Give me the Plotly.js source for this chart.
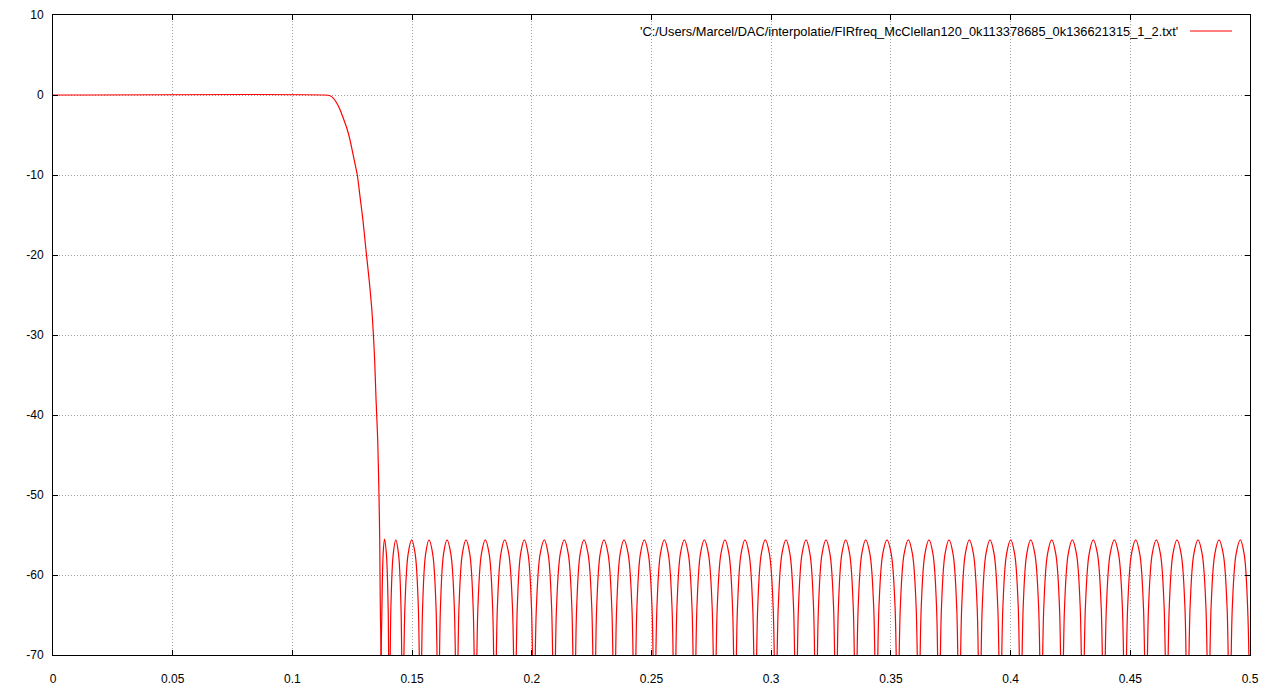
<!DOCTYPE html>
<html>
<head>
<meta charset="utf-8">
<script src="https://cdn.plot.ly/plotly-3.0.1.min.js"></script>
<style>
  html, body { margin: 0; padding: 0; background: #ffffff; }
  #chart { width: 1280px; height: 699px; }
</style>
</head>
<body>
<div id="chart"></div>
<script>
// ---- data ----
const seriesName = "'C:/Users/Marcel/DAC/interpolatie/FIRfreq_McClellan120_0k113378685_0k136621315_1_2.txt'";

// passband (flat at 0 dB)
const freqPass = [0, 0.11362];
const gainPass = [0, 0];

// transition band
const freqTrans = [0.11571, 0.11708, 0.11850, 0.11988, 0.12126, 0.12268, 0.12406, 0.12573, 0.12711, 0.12824,
                   0.12949, 0.13074, 0.13212, 0.13312, 0.13379, 0.13438, 0.13492, 0.13563, 0.13617, 0.13647, 0.13672];
const gainTrans = [-0.1, -0.4, -1.0, -1.8, -2.9, -4.1, -5.6, -8.0, -10.0, -12.7,
                   -15.7, -19.4, -23.3, -26.6, -29.7, -33.3, -37.9, -43.1, -50.0, -55.6, -64.0];

// stopband ripple (null, rising side, peak, falling side for each lobe)
const freqStop = [
  0.13705, 0.13741, 0.13790, 0.13847, 0.13927, 0.13998,
  0.14048, 0.14116, 0.14211, 0.14319, 0.14434, 0.14535,
  0.14607, 0.14701, 0.14833, 0.14983, 0.15130, 0.15259,
  0.15351, 0.15440, 0.15564, 0.15706, 0.15862, 0.15998,
  0.16095, 0.16186, 0.16313, 0.16458, 0.16620, 0.16762,
  0.16863, 0.16960, 0.17096, 0.17251, 0.17410, 0.17549,
  0.17648, 0.17751, 0.17894, 0.18058, 0.18220, 0.18362,
  0.18463, 0.18564, 0.18706, 0.18868, 0.19040, 0.19191,
  0.19298, 0.19395, 0.19531, 0.19687, 0.19846, 0.19985,
  0.20084, 0.20194, 0.20347, 0.20522, 0.20684, 0.20826,
  0.20927, 0.21035, 0.21186, 0.21358, 0.21525, 0.21671,
  0.21775, 0.21876, 0.22018, 0.22180, 0.22352, 0.22503,
  0.22611, 0.22712, 0.22854, 0.23016, 0.23188, 0.23339,
  0.23446, 0.23547, 0.23689, 0.23851, 0.24027, 0.24180,
  0.24290, 0.24392, 0.24535, 0.24699, 0.24869, 0.25019,
  0.25125, 0.25228, 0.25371, 0.25535, 0.25705, 0.25855,
  0.25961, 0.26063, 0.26206, 0.26370, 0.26540, 0.26690,
  0.26796, 0.26899, 0.27042, 0.27206, 0.27380, 0.27532,
  0.27640, 0.27748, 0.27898, 0.28070, 0.28237, 0.28384,
  0.28488, 0.28593, 0.28739, 0.28906, 0.29076, 0.29226,
  0.29332, 0.29438, 0.29585, 0.29754, 0.29928, 0.30080,
  0.30188, 0.30296, 0.30446, 0.30618, 0.30785, 0.30932,
  0.31036, 0.31141, 0.31287, 0.31454, 0.31621, 0.31767,
  0.31871, 0.31976, 0.32122, 0.32289, 0.32456, 0.32603,
  0.32707, 0.32808, 0.32950, 0.33112, 0.33279, 0.33426,
  0.33530, 0.33635, 0.33781, 0.33948, 0.34125, 0.34280,
  0.34390, 0.34502, 0.34658, 0.34837, 0.35016, 0.35172,
  0.35284, 0.35395, 0.35550, 0.35727, 0.35901, 0.36053,
  0.36161, 0.36269, 0.36419, 0.36591, 0.36758, 0.36905,
  0.37009, 0.37114, 0.37260, 0.37427, 0.37597, 0.37747,
  0.37853, 0.37959, 0.38106, 0.38275, 0.38449, 0.38601,
  0.38709, 0.38817, 0.38968, 0.39140, 0.39312, 0.39463,
  0.39570, 0.39679, 0.39830, 0.40004, 0.40171, 0.40318,
  0.40422, 0.40527, 0.40673, 0.40840, 0.41015, 0.41169,
  0.41278, 0.41388, 0.41541, 0.41717, 0.41889, 0.42040,
  0.42147, 0.42255, 0.42405, 0.42577, 0.42753, 0.42906,
  0.43016, 0.43126, 0.43279, 0.43454, 0.43630, 0.43783,
  0.43893, 0.44003, 0.44156, 0.44332, 0.44511, 0.44667,
  0.44779, 0.44891, 0.45047, 0.45225, 0.45397, 0.45548,
  0.45656, 0.45764, 0.45914, 0.46086, 0.46260, 0.46412,
  0.46521, 0.46629, 0.46779, 0.46951, 0.47126, 0.47280,
  0.47389, 0.47499, 0.47652, 0.47828, 0.48003, 0.48157,
  0.48266, 0.48376, 0.48529, 0.48705, 0.48884, 0.49040,
  0.49152, 0.49263, 0.49418, 0.49595, 0.49757, 0.49899,
  0.50000
];
const gainStop = [
  -70, -63.9, -57.4, -55.5, -57.4, -63.9,
  -80, -63.9, -57.4, -55.6, -57.4, -63.9,
  -80, -63.9, -57.4, -55.6, -57.4, -63.9,
  -80, -63.9, -57.4, -55.6, -57.4, -63.9,
  -80, -63.9, -57.4, -55.6, -57.4, -63.9,
  -80, -63.9, -57.4, -55.6, -57.4, -63.9,
  -80, -63.9, -57.4, -55.6, -57.4, -63.9,
  -80, -63.9, -57.4, -55.6, -57.4, -63.9,
  -80, -63.9, -57.4, -55.6, -57.4, -63.9,
  -80, -63.9, -57.4, -55.6, -57.4, -63.9,
  -80, -63.9, -57.4, -55.6, -57.4, -63.9,
  -80, -63.9, -57.4, -55.6, -57.4, -63.9,
  -80, -63.9, -57.4, -55.6, -57.4, -63.9,
  -80, -63.9, -57.4, -55.6, -57.4, -63.9,
  -80, -63.9, -57.4, -55.6, -57.4, -63.9,
  -80, -63.9, -57.4, -55.6, -57.4, -63.9,
  -80, -63.9, -57.4, -55.6, -57.4, -63.9,
  -80, -63.9, -57.4, -55.6, -57.4, -63.9,
  -80, -63.9, -57.4, -55.6, -57.4, -63.9,
  -80, -63.9, -57.4, -55.6, -57.4, -63.9,
  -80, -63.9, -57.4, -55.6, -57.4, -63.9,
  -80, -63.9, -57.4, -55.6, -57.4, -63.9,
  -80, -63.9, -57.4, -55.6, -57.4, -63.9,
  -80, -63.9, -57.4, -55.6, -57.4, -63.9,
  -80, -63.9, -57.4, -55.6, -57.4, -63.9,
  -80, -63.9, -57.4, -55.6, -57.4, -63.9,
  -80, -63.9, -57.4, -55.6, -57.4, -63.9,
  -80, -63.9, -57.4, -55.6, -57.4, -63.9,
  -80, -63.9, -57.4, -55.6, -57.4, -63.9,
  -80, -63.9, -57.4, -55.6, -57.4, -63.9,
  -80, -63.9, -57.4, -55.6, -57.4, -63.9,
  -80, -63.9, -57.4, -55.6, -57.4, -63.9,
  -80, -63.9, -57.4, -55.6, -57.4, -63.9,
  -80, -63.9, -57.4, -55.6, -57.4, -63.9,
  -80, -63.9, -57.4, -55.6, -57.4, -63.9,
  -80, -63.9, -57.4, -55.6, -57.4, -63.9,
  -80, -63.9, -57.4, -55.6, -57.4, -63.9,
  -80, -63.9, -57.4, -55.6, -57.4, -63.9,
  -80, -63.9, -57.4, -55.6, -57.4, -63.9,
  -80, -63.9, -57.4, -55.6, -57.4, -63.9,
  -80, -63.9, -57.4, -55.6, -57.4, -63.9,
  -80, -63.9, -57.4, -55.6, -57.4, -63.9,
  -80, -63.9, -57.4, -55.6, -57.4, -63.9,
  -80, -63.9, -57.4, -55.6, -57.4, -63.9,
  -80
];

// axis ticks
const xTickVals = [0, 0.05, 0.1, 0.15, 0.2, 0.25, 0.3, 0.35, 0.4, 0.45, 0.5];
const xTickText = ["0", "0.05", "0.1", "0.15", "0.2", "0.25", "0.3", "0.35", "0.4", "0.45", "0.5"];
const yTickVals = [-70, -60, -50, -40, -30, -20, -10, 0, 10];
const yTickText = ["-70", "-60", "-50", "-40", "-30", "-20", "-10", "0", "10"];

// ---- build the chart ----
const FONT = "'Liberation Sans', Arial, sans-serif";
const RED = '#ff0000';

const passTransX = freqPass.concat(freqTrans);
const passTransY = gainPass.concat(gainTrans);

const traces = [
  {
    type: 'scatter', mode: 'lines',
    x: passTransX.concat([freqStop[0]]), y: passTransY.concat([gainStop[0]]),
    line: { color: RED, width: 1.2, shape: 'spline', smoothing: 0.6 },
    name: seriesName, showlegend: false, hoverinfo: 'skip'
  },
  {
    type: 'scatter', mode: 'lines',
    x: freqStop, y: gainStop,
    line: { color: RED, width: 1.2, shape: 'spline', smoothing: 1 },
    name: seriesName, showlegend: false, hoverinfo: 'skip'
  }
];

const axisCommon = {
  showline: true, linecolor: '#000000', linewidth: 1,
  mirror: 'ticks', ticks: 'inside', ticklen: 5, tickwidth: 1, tickcolor: '#000000',
  showgrid: true, gridcolor: '#a0a0a0', gridwidth: 1, griddash: '1px,2px',
  zeroline: false,
  tickfont: { family: FONT, size: 12, color: '#000000' },
  tickmode: 'array', fixedrange: true
};

const layout = {
  width: 1280, height: 699,
  margin: { l: 53, r: 30, t: 15, b: 44, pad: 0 },
  paper_bgcolor: '#ffffff', plot_bgcolor: '#ffffff',
  showlegend: false,
  xaxis: Object.assign({}, axisCommon, {
    range: [0, 0.5], tickvals: xTickVals, ticktext: xTickText, ticklabelstandoff: 13
  }),
  yaxis: Object.assign({}, axisCommon, {
    range: [-70, 10], tickvals: yTickVals, ticktext: yTickText, ticklabelstandoff: 6
  }),
  annotations: [{
    xref: 'paper', yref: 'paper', x: 0.9415, y: 0.975,
    xanchor: 'right', yanchor: 'middle', showarrow: false,
    text: seriesName,
    font: { family: FONT, size: 12.8, color: '#000000' }
  }],
  shapes: [{
    type: 'line', xref: 'paper', yref: 'paper',
    x0: 0.9499, x1: 0.9850, y0: 0.975, y1: 0.975,
    line: { color: RED, width: 1.2 }
  }]
};

Plotly.newPlot('chart', traces, layout, { staticPlot: true, displayModeBar: false });
</script>
</body>
</html>
